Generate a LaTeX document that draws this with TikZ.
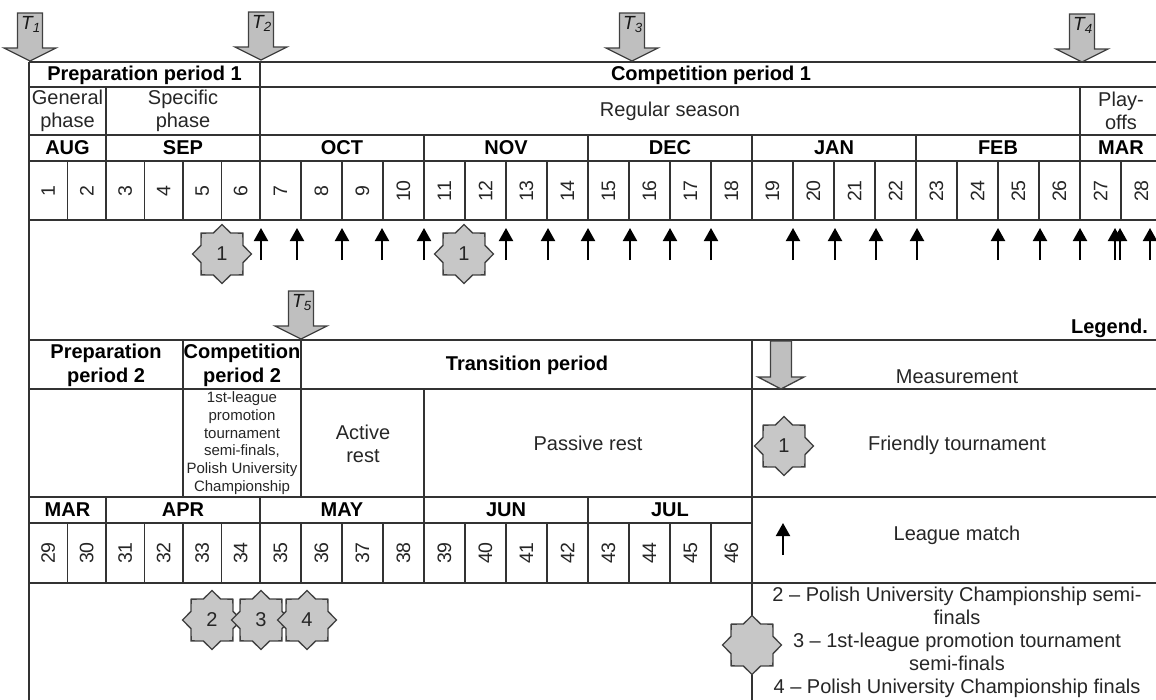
\documentclass[tikz,border=0pt]{standalone}
\usepackage{fontspec}
\setmainfont{Liberation Sans}
\usetikzlibrary{shapes.geometric,arrows.meta}
\tikzset{
 grid/.style={line width=1.2pt, draw=black!80},
 bigtxt/.style={font=\fontsize{20}{23}\selectfont, text=black!85, align=center, inner sep=0pt},
 boldtxt/.style={font=\fontsize{20}{24}\selectfont\bfseries, text=black, align=center, inner sep=0pt},
 wk/.style={font=\fontsize{19.5}{20}\selectfont, text=black!85, rotate=90, inner sep=0pt},
 smalltxt/.style={font=\fontsize{15}{17.7}\selectfont, text=black!85, align=center, inner sep=0pt},
 tour/.style={star, star points=8, star point ratio=1.3, minimum size=59pt, inner sep=0pt,
   fill=black!22, draw=black!75, line width=1.3pt, font=\fontsize{20}{23}\selectfont, text=black!85},
 meas/.style={fill=black!25, draw=black!75, line width=1.3pt},
 match/.style={line width=2pt, -{Triangle[width=14pt,length=13pt]}},
 tlabel/.style={anchor=north west, inner sep=0pt, font=\fontsize{19}{19}\selectfont\itshape, text=black!90},
}
\newcommand\MeasArrow[4]{%
 \draw[meas] (#2-12.5,#3-48) -- (#2+12.5,#3-48) -- (#2+12.5,#3-13) -- (#2+26,#3-13)
   -- (#2,#3) -- (#2-26,#3-13) -- (#2-12.5,#3-13) -- cycle;
 \node[tlabel] (#1) at (#2-9,#3-45) {T\textsubscript{#4}};
}
\begin{document}
\begin{tikzpicture}[x=1pt,y=-1pt]
\useasboundingbox (0,0) rectangle (1156,699);
\clip (0,0) rectangle (1156,699);

% ---------- top table ----------
\foreach \y in {62,87,135,161,220,340}
  \draw[grid] (29,\y) -- (1170,\y);
\draw[grid] (29,62) -- (29,705);
\draw[grid] (260,62) -- (260,87);
\foreach \x in {106,260,1080}
  \draw[grid] (\x,87) -- (\x,135);
\foreach \x in {106,260,424,588,752,916,1080}
  \draw[grid] (\x,135) -- (\x,161);
\foreach \x in {67.5,106,144.5,183,221.5,260,301,342,383,424,465,506,547,588,629,670,711,752,793,834,875,916,957,998,1039,1080,1121}
  \draw[grid] (\x,161) -- (\x,220);

\node[boldtxt] (prep1) at (144.5,75) {Preparation period 1};
\node[boldtxt] (comp1) at (711,75) {Competition period 1};
\node[bigtxt] (gen) at (67.5,111) {General\\phase};
\node[bigtxt] (spec) at (183,111) {Specific\\phase};
\node[bigtxt] (reg) at (670,111) {Regular season};
\node[bigtxt] (play) at (1121,111) {Play-\\offs};
\node[boldtxt] (aug) at (67.5,148) {AUG};
\node[boldtxt] (sep) at (183,148) {SEP};
\node[boldtxt] (oct) at (342,148) {OCT};
\node[boldtxt] (nov) at (506,148) {NOV};
\node[boldtxt] (dec) at (670,148) {DEC};
\node[boldtxt] (jan) at (834,148) {JAN};
\node[boldtxt] (feb) at (998,148) {FEB};
\node[boldtxt] (mar) at (1121,148) {MAR};
\foreach \i in {1,...,28}{
  \pgfmathsetmacro\cx{\i<=6 ? 29+38.5*(\i-0.5) : 260+41*(\i-6.5)}
  \node[wk] (w\i) at (\cx,191) {\i};
}

% league matches
\foreach \x in {261,297,342,382,424,506,548,588,630,670,711,793,835,876,917,998,1040,1080,1115,1120,1150}
  \draw[match] (\x,260) -- (\x,228);
\node[tour] (f1) at (222,254) {1};
\node[tour] (f2) at (464,254) {1};

% ---------- bottom table ----------
\foreach \y in {389,497,583}
  \draw[grid] (29,\y) -- (1170,\y);
\draw[grid] (29,523) -- (752,523);
\draw[grid] (752,340) -- (752,705);
\foreach \x in {183,301}
  \draw[grid] (\x,340) -- (\x,497);
\draw[grid] (424,389) -- (424,497);
\foreach \x in {106,260,424,588}
  \draw[grid] (\x,497) -- (\x,523);
\foreach \x in {67.5,106,144.5,183,221.5,260,301,342,383,424,465,506,547,588,629,670,711}
  \draw[grid] (\x,523) -- (\x,583);

\node[boldtxt] (prep2) at (106,365) {Preparation\\period 2};
\node[boldtxt] (comp2) at (242,365) {Competition\\period 2};
\node[boldtxt] (trans) at (527,365) {Transition period};
\node[smalltxt] (cdesc) at (242,443) {1st-league\\promotion\\tournament\\semi-finals,\\Polish University\\Championship};
\node[bigtxt] (active) at (363,444) {Active\\rest};
\node[bigtxt] (passive) at (588,443) {Passive rest};
\node[boldtxt] (mar2) at (67.5,510) {MAR};
\node[boldtxt] (apr) at (183,510) {APR};
\node[boldtxt] (may) at (342,510) {MAY};
\node[boldtxt] (jun) at (506,510) {JUN};
\node[boldtxt] (jul) at (670,510) {JUL};
\foreach \k in {29,...,46}{
  \pgfmathsetmacro\cx{(\k-28)<=6 ? 29+38.5*(\k-28.5) : 260+41*(\k-34.5)}
  \node[wk] (w\k) at (\cx,553) {\k};
}
\node[tour] (p2) at (212,620) {2};
\node[tour] (p3) at (261,620) {3};
\node[tour] (p4) at (307,620) {4};

% ---------- legend ----------
\node[boldtxt, anchor=east] (legend) at (1148,328) {Legend.};
\node[bigtxt] (lmeas) at (957,377) {Measurement};
\node[bigtxt] (lfriend) at (957,445) {Friendly tournament};
\node[bigtxt] (lmatch) at (957,535) {League match};
\node[bigtxt] (lother) at (957,642) {2 – Polish University Championship semi-\\finals\\3 – 1st-league promotion tournament\\semi-finals\\4 – Polish University Championship finals};
\node[tour] (lf) at (784,446) {1};
\node[tour] (lo) at (752,645) {};
\draw[match] (783,555) -- (783,523);
\draw[meas] (770.5,341) -- (791.5,341) -- (791.5,377) -- (804,377) -- (781,389) -- (758,377) -- (770.5,377) -- cycle;

% ---------- measurements ----------
\MeasArrow{t1}{30}{61}{1}
\MeasArrow{t2}{261}{60}{2}
\MeasArrow{t3}{632}{61}{3}
\MeasArrow{t4}{1082}{62}{4}
\MeasArrow{t5}{301}{339}{5}
\end{tikzpicture}
\end{document}
